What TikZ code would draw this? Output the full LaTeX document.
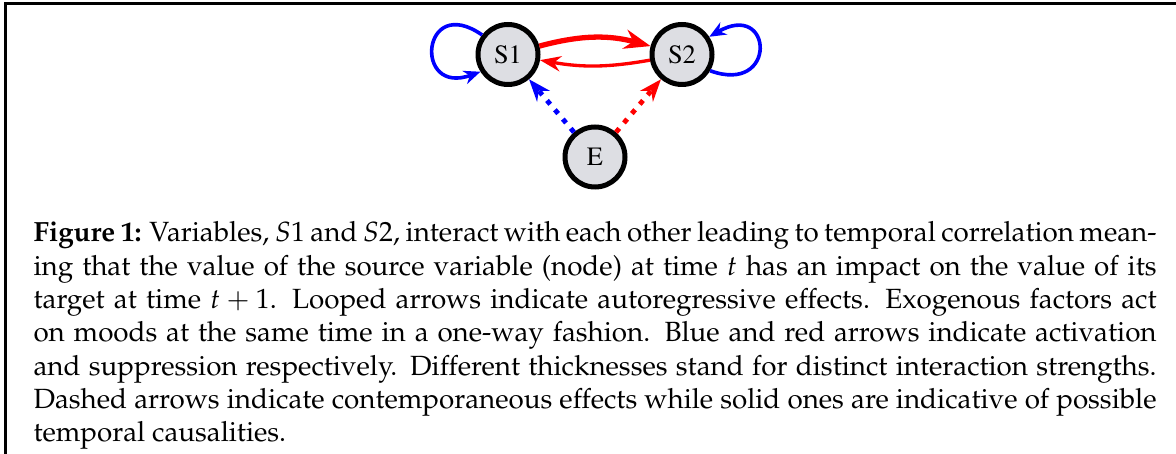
\documentclass[tikz,border=0pt]{standalone}
\usepackage[T1]{fontenc}
\usepackage{mathpazo}
\usetikzlibrary{arrows.meta}
\definecolor{nodefill}{RGB}{221,222,227}
\begin{document}
\begin{tikzpicture}[x=0.36pt,y=0.36pt,
  state/.style={circle, draw=black, line width=1.8pt, fill=nodefill,
    minimum size=21.6pt, inner sep=0pt,
    font=\fontsize{9.5}{11}\fontfamily{ptm}\selectfont},
  strong/.style={draw=red, line width=1.9pt, -{Stealth[length=9.5pt,width=7pt]}},
  weak/.style={draw=red, line width=1.2pt, -{Stealth[length=7.5pt,width=5.5pt]}},
  selfloop/.style={draw=blue, line width=1.3pt, -{Stealth[length=6pt,width=5pt]}},
  contemp/.style={line width=1.75pt, dash pattern=on 1.8pt off 2.6pt,
    -{Stealth[length=8pt,width=6pt]}},
  frame/.style={line width=1.08pt, draw=black},
  caption/.style={anchor=base west, inner sep=0pt, text width=404.3pt,
    align=justify, font=\fontsize{10}{12}\selectfont}
]
\useasboundingbox (0,0) rectangle (1176,454);

% open frame: top rule and left rule
\draw[frame] (1176,450.5) -- (5.5,450.5) -- (5.5,0);

% states
\node[state] (S1) at (508,399.5) {S1};
\node[state] (S2) at (682,399.5) {S2};
\node[state] (E)  at (595,297)   {E};

% lagged effects between the two states
\draw[strong] (S1) to[bend left=15] (S2);
\draw[weak]   (S2) to[bend left=10] (S1);

% autoregressive loops
\draw[selfloop] (S1.143) .. controls +(145:74) and +(200:72) .. (S1.212);
\draw[selfloop] (S2.-30) .. controls +(-20:72) and +(30:74) .. (S2.33);

% contemporaneous exogenous effects
\draw[contemp, blue] (E) -- (S1);
\draw[contemp, red]  (E) -- (S2);

% caption
\node[caption] (cap) at (33,212) {\textbf{Figure 1:} Variables, $S1$ and $S2$, interact with each other leading to temporal correlation mean-\linebreak
ing that the value of the source variable (node) at time $t$ has an impact on the value of its\linebreak
target at time $t+1$.  Looped arrows indicate autoregressive effects. Exogenous factors act\linebreak
on moods at the same time in a one-way fashion. Blue and red arrows indicate activation\linebreak
and suppression respectively. Different thicknesses stand for distinct interaction strengths.\linebreak
Dashed arrows indicate contemporaneous effects while solid ones are indicative of possible\linebreak
temporal causalities.};
\end{tikzpicture}
\end{document}
